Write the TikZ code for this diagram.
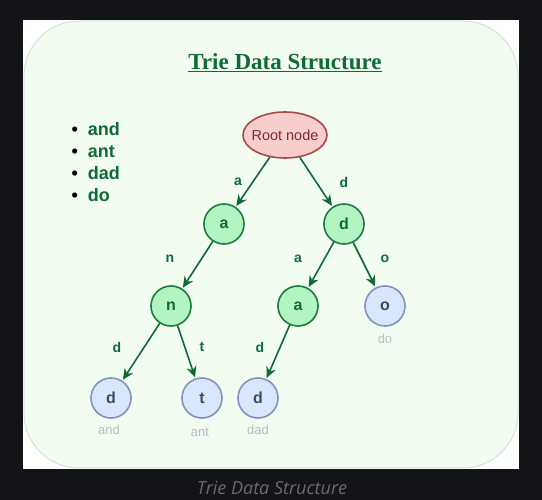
\documentclass[tikz,border=0pt]{standalone}
\usepackage{fontspec}
\setmainfont{Liberation Serif}
\setsansfont{Liberation Sans}
\newfontfamily\capfont{Open Sans}
\usetikzlibrary{shapes.geometric,arrows.meta}
\definecolor{bgdark}{HTML}{131417}
\definecolor{panelfill}{HTML}{F3FCF1}
\definecolor{panelline}{HTML}{D3E2D5}
\definecolor{triegreen}{HTML}{0E6B35}
\definecolor{greenfill}{HTML}{B3F5C2}
\definecolor{greenline}{HTML}{1B7A3C}
\definecolor{bluefill}{HTML}{DAE6FB}
\definecolor{blueline}{HTML}{8193C0}
\definecolor{bluetext}{HTML}{3E4A66}
\definecolor{wordgray}{HTML}{B2BDC9}
\definecolor{rootfill}{HTML}{F8CECC}
\definecolor{rootline}{HTML}{A84A46}
\definecolor{roottext}{HTML}{7A2E2B}
\definecolor{capgray}{HTML}{6A6A6A}
\tikzset{
  inner/.style={circle, minimum size=40pt, inner sep=0pt, line width=1.6pt, draw=greenline, fill=greenfill, text=triegreen, font=\sffamily\bfseries\fontsize{16}{16}\selectfont},
  leaf/.style={inner, draw=blueline, fill=bluefill, text=bluetext},
  word/.style={text=wordgray, font=\sffamily\fontsize{13}{13}\selectfont},
  edgelab/.style={text=triegreen, font=\sffamily\bfseries\fontsize{14}{14}\selectfont},
  link/.style={-{Stealth[length=11pt,width=10pt]}, line width=1.6pt, draw=triegreen, shorten >=1pt},
}
\begin{document}
\begin{tikzpicture}[x=1pt, y=-1pt]
\useasboundingbox (0,0) rectangle (542,500);
\fill[bgdark] (0,0) rectangle (542,500);
\fill[white] (23,20) rectangle (519,469);
\draw[panelline, fill=panelfill, line width=1pt, rounded corners=55pt] (24,21) rectangle (518,468);
% title and word list
\node (title) at (285,63) {\fontsize{23}{23}\selectfont\bfseries\color{triegreen}\underline{Trie Data Structure}};
\node[anchor=west, align=left, font=\sffamily\bfseries\fontsize{18}{21.8}\selectfont, text=triegreen] (words) at (68,162)
  {\textcolor{black}{\textbullet}\hspace{10pt}and\\ \textcolor{black}{\textbullet}\hspace{10pt}ant\\ \textcolor{black}{\textbullet}\hspace{10pt}dad\\ \textcolor{black}{\textbullet}\hspace{10pt}do};
% nodes
\node[ellipse, minimum width=84pt, minimum height=46pt, inner xsep=-8pt, inner ysep=0pt, line width=1.6pt, draw=rootline, fill=rootfill, text=roottext, font=\sffamily\fontsize{14.5}{14.5}\selectfont] (root) at (285,135) {Root node};
\node[inner] (a) at (224,224) {a};
\node[inner] (d) at (344,224) {d};
\node[inner] (an) at (171,306) {n};
\node[inner] (da) at (298,306) {a};
\node[leaf] (do) at (385,306) {o};
\node[leaf] (and) at (111,398) {d};
\node[leaf] (ant) at (202,398) {t};
\node[leaf] (dad) at (258,398) {d};
% words under leaves
\node[word] (w1) at (109,430) {and};
\node[word] (w2) at (200,432) {ant};
\node[word] (w3) at (258,430) {dad};
\node[word] (w4) at (385,339) {do};
% edges
\draw[link] (root) -- (a);
\draw[link] (root) -- (d);
\draw[link] (a) -- (an);
\draw[link] (d) -- (da);
\draw[link] (d) -- (do);
\draw[link] (an) -- (and);
\draw[link] (an) -- (ant);
\draw[link] (da) -- (dad);
% edge labels
\node[edgelab] at (238,182) {a};
\node[edgelab] at (344,182) {d};
\node[edgelab] at (170,259) {n};
\node[edgelab] at (298,259) {a};
\node[edgelab] at (385,259) {o};
\node[edgelab] at (117,347) {d};
\node[edgelab] at (202,347) {t};
\node[edgelab] at (260,347) {d};
% caption
\node[text=capgray, font=\capfont\itshape\fontsize{18}{18}\selectfont] (caption) at (272,488) {Trie Data Structure};
\end{tikzpicture}
\end{document}
